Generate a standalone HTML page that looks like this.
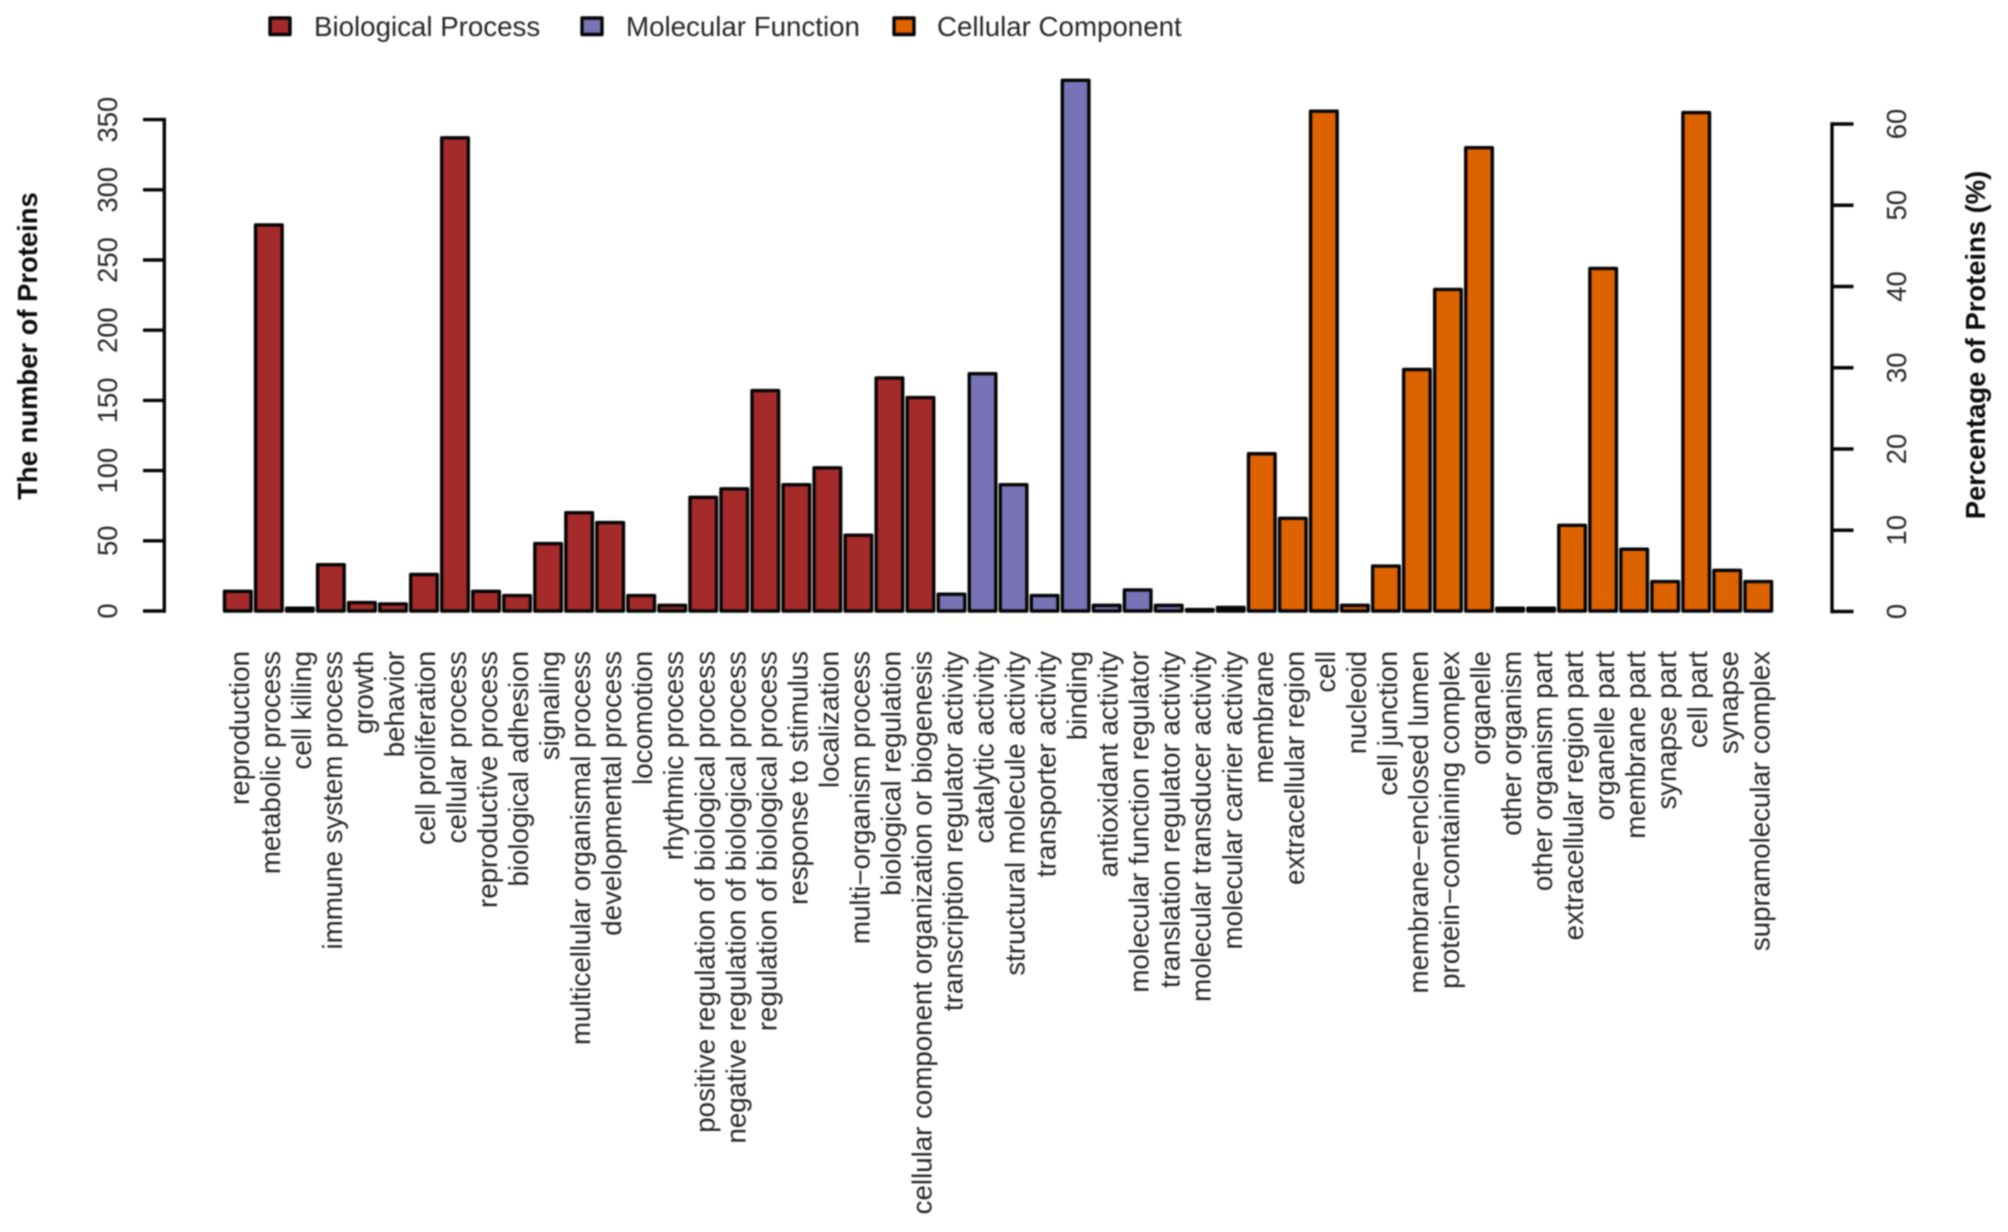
<!DOCTYPE html>
<html lang="en">
<head>
<meta charset="utf-8">
<title>Gene Ontology Protein Classification</title>
<style>
html,body{margin:0;padding:0;background:#fff;}
body{width:2008px;height:1232px;overflow:hidden;}
svg{display:block;filter:blur(0.85px);}
text{font-family:"Liberation Sans",Arial,sans-serif;fill:#262626;}
</style>
</head>
<body>
<svg id="chart" xmlns="http://www.w3.org/2000/svg" width="2008" height="1232" viewBox="0 0 2008 1232">
  <rect x="0" y="0" width="2008" height="1232" fill="#ffffff"/>
  <g id="legend"></g>
  <g id="left-axis"></g>
  <g id="right-axis"></g>
  <g id="bars"></g>
  <g id="x-labels"></g>
  <text transform="translate(37,346) rotate(-90)" text-anchor="middle" font-size="27.4" font-weight="bold" style="fill:#0c0c0c">The number of Proteins</text>
  <text transform="translate(1985,345) rotate(-90)" text-anchor="middle" font-size="27.4" font-weight="bold" style="fill:#0c0c0c">Percentage of Proteins (%)</text>
</svg>
<script>
const categories = ["reproduction","metabolic process","cell killing","immune system process","growth","behavior","cell proliferation","cellular process","reproductive process","biological adhesion","signaling","multicellular organismal process","developmental process","locomotion","rhythmic process","positive regulation of biological process","negative regulation of biological process","regulation of biological process","response to stimulus","localization","multi\u2212organism process","biological regulation","cellular component organization or biogenesis","transcription regulator activity","catalytic activity","structural molecule activity","transporter activity","binding","antioxidant activity","molecular function regulator","translation regulator activity","molecular transducer activity","molecular carrier activity","membrane","extracellular region","cell","nucleoid","cell junction","membrane\u2212enclosed lumen","protein\u2212containing complex","organelle","other organism","other organism part","extracellular region part","organelle part","membrane part","synapse part","cell part","synapse","supramolecular complex"];
const proteinCounts = [14,275,2,33,6,5,26,337,14,11,48,70,63,11,4,81,87,157,90,102,54,166,152,12,169,90,11,378,4,15,4,1,2.5,112,66,356,4,32,172,229,330,2,2,61,244,44,21,355,29,21];
const ontologyGroups = ["Biological Process","Molecular Function","Cellular Component"];
const groupSizes = [23,10,17];
const groupColors = ["#a52a2a","#7873b6","#dd6200"];
const leftTicks = [0,50,100,150,200,250,300,350];
const rightTicks = [0,10,20,30,40,50,60];

const SVGNS = "http://www.w3.org/2000/svg";
function yCount(v){ return 611 - v * (491.4 / 350); }
function yPercent(p){ return 611.5 - p * (487.5 / 60); }
function xBand(i){ return 224.5 + i * 31.03; }
const barWidth = 26.6;

function make(tag, parent, attrs){
  const el = document.createElementNS(SVGNS, tag);
  for (const k in attrs) el.setAttribute(k, attrs[k]);
  parent.appendChild(el);
  return el;
}
function groupIndex(i){
  let acc = 0;
  for (let g = 0; g < groupSizes.length; g++){
    acc += groupSizes[g];
    if (i < acc) return g;
  }
  return groupSizes.length - 1;
}

const stroke = "#050505";

/* bars */
const barsG = document.getElementById("bars");
proteinCounts.forEach(function(v, i){
  const top = yCount(v);
  const r = make("rect", barsG, {x:xBand(i), y:top, width:barWidth, height:Math.max(0.01, yCount(0) - top), fill:groupColors[groupIndex(i)], stroke:stroke, "stroke-width":3.4, "stroke-linejoin":"round"});
  
  
});

/* category labels */
const labelsG = document.getElementById("x-labels");
categories.forEach(function(c, i){
  const cx = xBand(i) + barWidth / 2 + 11;
  const t = make("text", labelsG, {transform:"translate(" + cx + ",651) rotate(-90)", "text-anchor":"end", "font-size":27.7});
  
  
  t.textContent = c;
});

/* left axis */
const leftG = document.getElementById("left-axis");
const leftLine = make("line", leftG, {x1:164.3, x2:164.3, y1:yCount(leftTicks[0]), y2:yCount(leftTicks[leftTicks.length-1]), stroke:stroke, "stroke-width":3.4, "stroke-linecap":"square"});


leftTicks.forEach(function(v){
  const y = yCount(v);
  const tick = make("line", leftG, {x1:143, x2:164.3, y1:y, y2:y, stroke:stroke, "stroke-width":3.4});
  
  
  const t = make("text", leftG, {transform:"translate(117," + y + ") rotate(-90)", "text-anchor":"middle", "font-size":27.4});
  
  
  t.textContent = v;
});

/* right axis */
const rightG = document.getElementById("right-axis");
const rightLine = make("line", rightG, {x1:1832, x2:1832, y1:yPercent(rightTicks[0]), y2:yPercent(rightTicks[rightTicks.length-1]), stroke:stroke, "stroke-width":3.4, "stroke-linecap":"square"});


rightTicks.forEach(function(v){
  const y = yPercent(v);
  const tick = make("line", rightG, {x1:1832, x2:1853.5, y1:y, y2:y, stroke:stroke, "stroke-width":3.4});
  
  
  const t = make("text", rightG, {transform:"translate(1906," + y + ") rotate(-90)", "text-anchor":"middle", "font-size":27.4});
  
  
  t.textContent = v;
});

/* legend */
const legendG = document.getElementById("legend");
const legendSwatchX = [270, 582, 894];
const legendTextX = [314, 626, 937];
ontologyGroups.forEach(function(name, i){
  const s = make("rect", legendG, {x:legendSwatchX[i], y:18, width:20, height:16.5, fill:groupColors[i], stroke:stroke, "stroke-width":3.4, "stroke-linejoin":"round"});
  
  
  const t = make("text", legendG, {x:legendTextX[i], y:36, "font-size":27.7});
  
  
  t.textContent = name;
});
</script>
</body>
</html>
